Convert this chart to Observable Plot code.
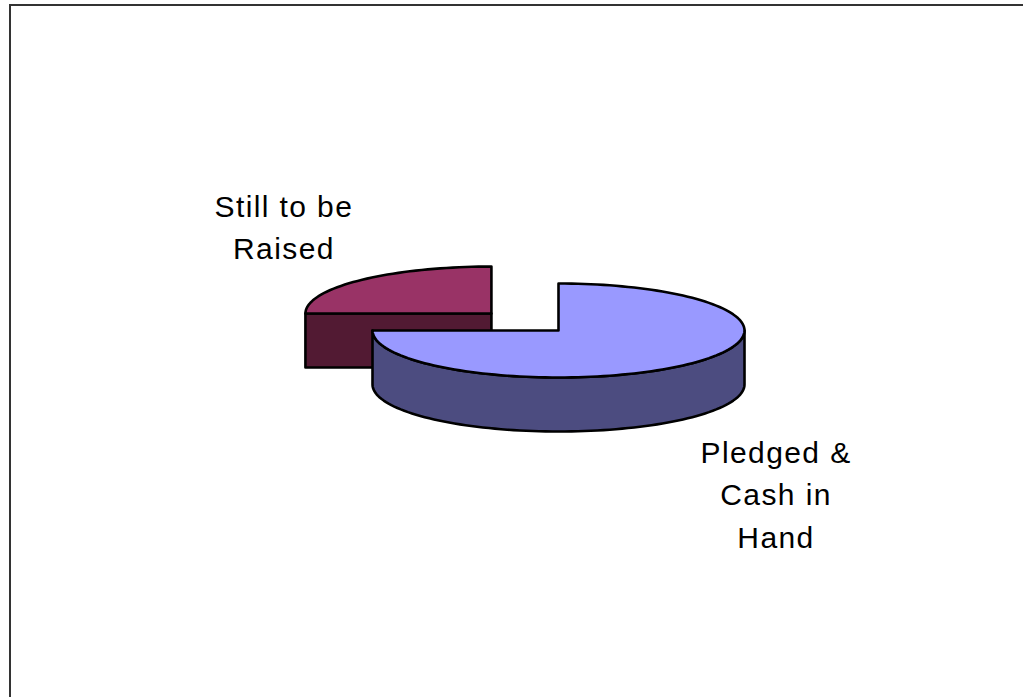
<!DOCTYPE html>
<html>
<head>
<meta charset="utf-8">
<script src="https://cdn.jsdelivr.net/npm/d3@7"></script>
<script src="https://cdn.jsdelivr.net/npm/@observablehq/plot@0.6"></script>
<style>
  html, body { margin: 0; padding: 0; background: #fff; overflow: hidden; }
  #wrap { position: relative; width: 1023px; height: 697px; }
  #frame { position: absolute; left: 9px; top: 4px; width: 1100px; height: 800px; border: 2px solid #333; box-sizing: border-box; pointer-events: none; }
  #chart { position: absolute; left: 0; top: 0; }
  #chart svg text { letter-spacing: 1.4px; }
</style>
</head>
<body>
<div id="wrap"><div id="chart"></div><div id="frame"></div></div>
<script>
// ---- data ----
const categories = ["Pledged & Cash in Hand", "Still to be Raised"];
const values = [75, 25];
const labels = ["Pledged &\nCash in\nHand", "Still to be\nRaised"];

// ---- style ----
const topColors = ["#9999ff", "#993366"];
const sideColors = ["#4c4c80", "#521a33"];
const explode = [0, 0.51];          // in radius units
const labelOffsets = [[86, 128], [-76, -56]]; // px, relative to mid-rim point
const W = 1023, H = 697;
const CX = 558, CY = 330, RX = 186, RY = 47, DEPTH_PX = 54;
const D = DEPTH_PX / RY;            // depth in y-units

const total = d3.sum(values);
const rad = a => a * Math.PI / 180;
const N = 180;

function arc(cx, cy, a0, a1, dz) {
  const pts = [];
  const n = Math.max(2, Math.ceil(Math.abs(a1 - a0) / 360 * N));
  for (let k = 0; k <= n; k++) {
    const a = a0 + (a1 - a0) * k / n;
    pts.push({x: cx + Math.cos(rad(a)), y: cy + Math.sin(rad(a)) - dz});
  }
  return pts;
}

// build slices
let cum = 0;
const slices = categories.map((c, i) => {
  const aStart = 90 - cum / total * 360;
  const aEnd = 90 - (cum + values[i]) / total * 360;
  cum += values[i];
  const lo = aEnd, hi = aStart, mid = (lo + hi) / 2;
  const cx = Math.cos(rad(mid)) * explode[i];
  const cy = Math.sin(rad(mid)) * explode[i];
  return {i, c, lo, hi, mid, cx, cy};
});

const marks = [];
// back slices first
const order = slices.slice().sort((a, b) => b.cy - a.cy);
for (const s of order) {
  const {i, lo, hi, cx, cy} = s;
  // radial faces
  for (const [a, nrm] of [[hi, hi + 90], [lo, lo - 90]]) {
    if (Math.sin(rad(nrm)) < -1e-6) {
      const p = [
        {x: cx, y: cy},
        {x: cx + Math.cos(rad(a)), y: cy + Math.sin(rad(a))},
        {x: cx + Math.cos(rad(a)), y: cy + Math.sin(rad(a)) - D},
        {x: cx, y: cy - D},
        {x: cx, y: cy}
      ];
      marks.push(Plot.line(p, {x: "x", y: "y", fill: sideColors[i], stroke: "black", strokeWidth: 2.6, strokeLinejoin: "round"}));
    }
  }
  // curved side (front half: sin < 0)
  for (let k = -2; k <= 2; k++) {
    const s0 = Math.max(lo, -180 + 360 * k), s1 = Math.min(hi, 0 + 360 * k);
    if (s1 - s0 > 1e-6) {
      const top = arc(cx, cy, s0, s1, 0);
      const bot = arc(cx, cy, s1, s0, D);
      const p = top.concat(bot, [top[0]]);
      marks.push(Plot.line(p, {x: "x", y: "y", fill: sideColors[i], stroke: "black", strokeWidth: 2.6, strokeLinejoin: "round"}));
    }
  }
  // top face
  const tp = [{x: cx, y: cy}].concat(arc(cx, cy, lo, hi, 0), [{x: cx, y: cy}]);
  marks.push(Plot.line(tp, {x: "x", y: "y", fill: topColors[i], stroke: "black", strokeWidth: 2.6, strokeLinejoin: "round"}));
}

// labels
for (const s of slices) {
  const rx = s.cx + Math.cos(rad(s.mid)), ry = s.cy + Math.sin(rad(s.mid));
  marks.push(Plot.text([labels[s.i]], {
    x: () => rx, y: () => ry, text: d => d,
    dx: labelOffsets[s.i][0], dy: labelOffsets[s.i][1],
    fontSize: 30, lineHeight: 1.43, textAnchor: "middle",
    fontFamily: "'Liberation Sans', Arial, sans-serif", fill: "black"
  }));
}

const chart = Plot.plot({
  width: W, height: H,
  margin: 0,
  x: {domain: [-CX / RX, (W - CX) / RX], range: [0, W], axis: null},
  y: {domain: [CY / RY, (CY - H) / RY], range: [0, H], axis: null},
  style: {background: "transparent", overflow: "visible"},
  marks
});
document.getElementById("chart").appendChild(chart);
</script>
</body>
</html>
